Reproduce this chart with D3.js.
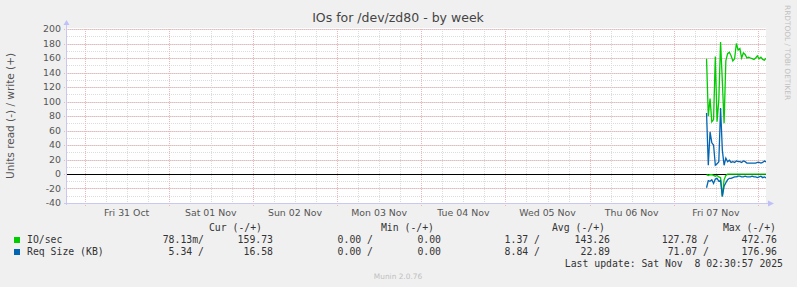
<!DOCTYPE html>
<html>
<head>
<meta charset="utf-8">
<script src="https://cdn.jsdelivr.net/npm/d3@7"></script>
<style>
  body { margin: 0; background: #f0f0f0; }
  svg { display: block; }
  text { font-family: "DejaVu Sans", sans-serif; fill: #555; }
  .mono { font-family: "DejaVu Sans Mono", monospace; font-size: 9.8px; fill: #333; }
</style>
</head>
<body>
<script>
// time window of the graph (UTC)
var tStart = Date.UTC(2025, 9, 30, 19, 0),
    tEnd = Date.UTC(2025, 10, 8, 2, 17);

// samples every 30 min, first one Fri 07 Nov 09:20
var sampleStart = Date.UTC(2025, 10, 7, 9, 20);
var ioWrite = [159, 80, 104, 72, 75, 162, 72, 102, 182, 128, 70, 156, 166, 168, 163, 156, 159, 180,
    171, 173, 160, 167, 165, 160, 161, 160, 159, 158, 160, 163, 159, 161, 158, 157, 159.73];
var ioRead = [1, 2, 1, 1, 2, 3, 2, 4, 5, 31, 8, 2, 0.3, 0.2, 0.2, 0.1, 0.1, 0.1, 0.1, 0.1, 0.1,
    0.1, 0.1, 0.1, 0.1, 0.1, 0.1, 0.1, 0.1, 0.1, 0.1, 0.1, 0.1, 0.1, 0.078];
var reqWrite = [84, 12, 58, 43, 40, 12, 14, 17, 91, 33, 12, 22, 17, 19, 16, 17, 16, 18, 17, 17, 16,
    18, 17, 15, 15, 15, 15, 15, 15, 16, 16, 15, 16, 18, 16.58];
var reqRead = [19, 9, 10, 8, 13, 7, 6, 10, 9, 31, 17, 12, 8, 6, 6, 5, 4, 4, 3, 3, 4, 4, 3, 4, 4, 4,
    3, 4, 4, 5, 4, 3, 5, 4, 5.34];

var yTicks = [-40, -20, 0, 20, 40, 60, 80, 100, 120, 140, 160, 180, 200];
var dayLabels = ["Fri 31 Oct", "Sat 01 Nov", "Sun 02 Nov", "Mon 03 Nov", "Tue 04 Nov",
    "Wed 05 Nov", "Thu 06 Nov", "Fri 07 Nov"];

var legendNames = ["IO/sec", "Req Size (KB)"];
var legendColors = ["#00cc00", "#0066b3"];
var legendCur = [["78.13m/", "159.73"], ["5.34 /", "16.58"]];
var legendMin = [["0.00 /", "0.00"], ["0.00 /", "0.00"]];
var legendAvg = [["1.37 /", "143.26"], ["8.84 /", "22.89"]];
var legendMax = [["127.78 /", "472.76"], ["71.07 /", "176.96"]];

var W = 797, H = 287;
var pL = 67, pR = 766, pT = 29, pB = 203;

var svg = d3.select("body").append("svg")
    .attr("width", W)
    .attr("height", H);

var x = d3.scaleUtc().domain([tStart, tEnd]).range([pL, pR]);
var y = d3.scaleLinear().domain([-40, 200]).range([pB, pT]);

// plot background
svg.append("rect")
    .attr("x", pL).attr("y", pT - 1)
    .attr("width", pR - pL).attr("height", pB - pT + 1)
    .attr("fill", "#fff");

// grid
var minorX = d3.utcHour.every(6).range(new Date(tStart), new Date(tEnd));
var majorX = d3.utcDay.range(new Date(tStart), new Date(tEnd));

svg.append("g").selectAll("line")
    .data(minorX)
    .enter().append("line")
    .attr("x1", function (d) { return Math.round(x(d)) + 0.5; })
    .attr("x2", function (d) { return Math.round(x(d)) + 0.5; })
    .attr("y1", pT).attr("y2", pB)
    .attr("stroke", "#dcdcdc").attr("stroke-dasharray", "1,1");

var minorY = d3.range(-40, 201, 10);
svg.append("g").selectAll("line")
    .data(minorY)
    .enter().append("line")
    .attr("x1", pL).attr("x2", pR)
    .attr("y1", function (d) { return Math.round(y(d)) + 0.5; })
    .attr("y2", function (d) { return Math.round(y(d)) + 0.5; })
    .attr("stroke", "#dcdcdc").attr("stroke-dasharray", "1,1");

svg.append("g").selectAll("line")
    .data(majorX)
    .enter().append("line")
    .attr("x1", function (d) { return Math.round(x(d)) + 0.5; })
    .attr("x2", function (d) { return Math.round(x(d)) + 0.5; })
    .attr("y1", pT).attr("y2", pB + 3)
    .attr("stroke", "#efb8b8").attr("stroke-dasharray", "1,1");

svg.append("g").selectAll("line")
    .data(yTicks)
    .enter().append("line")
    .attr("x1", pL - 3).attr("x2", pR)
    .attr("y1", function (d) { return Math.round(y(d)) + 0.5; })
    .attr("y2", function (d) { return Math.round(y(d)) + 0.5; })
    .attr("stroke", "#efb8b8").attr("stroke-dasharray", "1,1");

// y tick labels
svg.append("g").selectAll("text")
    .data(yTicks)
    .enter().append("text")
    .attr("x", pL - 6)
    .attr("y", function (d) { return y(d); })
    .attr("dy", "0.36em")
    .attr("text-anchor", "end")
    .style("font-size", "9.4px")
    .text(function (d) { return d; });

// x labels at noon
svg.append("g").selectAll("text")
    .data(dayLabels)
    .enter().append("text")
    .attr("x", function (d, i) { return x(Date.UTC(2025, 9, 31 + i, 12)); })
    .attr("y", 216)
    .attr("text-anchor", "middle")
    .style("font-size", "9.4px")
    .text(function (d) { return d; });

// zero line
svg.append("line")
    .attr("x1", pL).attr("x2", pR)
    .attr("y1", Math.round(y(0)) + 0.5).attr("y2", Math.round(y(0)) + 0.5)
    .attr("stroke", "#000");

// data lines
var times = ioWrite.map(function (d, i) { return sampleStart + i * 30 * 60 * 1000; });
var line = d3.line()
    .x(function (d, i) { return x(times[i]); })
    .y(function (d) { return y(d); });

svg.append("defs").append("clipPath").attr("id", "clip")
    .append("rect").attr("x", pL).attr("y", 0).attr("width", pR - pL).attr("height", H);

var plot = svg.append("g").attr("clip-path", "url(#clip)");
[[ioRead.map(function (d) { return -d; }), legendColors[0]],
 [ioWrite, legendColors[0]],
 [reqRead.map(function (d) { return -d; }), legendColors[1]],
 [reqWrite, legendColors[1]]].forEach(function (s) {
    plot.append("path")
        .datum(s[0])
        .attr("d", line)
        .attr("fill", "none")
        .attr("stroke", s[1])
        .attr("stroke-width", 1.3);
});

// axes with arrows
svg.append("line")
    .attr("x1", pL - 0.5).attr("x2", pL - 0.5)
    .attr("y1", pB + 2).attr("y2", pT - 5)
    .attr("stroke", "#c8c8f0");
svg.append("line")
    .attr("x1", pL - 3).attr("x2", pR + 3)
    .attr("y1", pB + 0.5).attr("y2", pB + 0.5)
    .attr("stroke", "#c8c8f0");
svg.append("path")
    .attr("d", "M" + (pL - 3.5) + "," + (pT - 4) + "L" + (pL - 0.5) + "," + (pT - 9) + "L" + (pL + 2.5) + "," + (pT - 4) + "Z")
    .attr("fill", "#c0c0f8");
svg.append("path")
    .attr("d", "M" + (pR + 2) + "," + (pB - 2.5) + "L" + (pR + 8) + "," + (pB + 0.5) + "L" + (pR + 2) + "," + (pB + 3.5) + "Z")
    .attr("fill", "#c0c0f8");

// title
svg.append("text")
    .attr("x", 398).attr("y", 22)
    .attr("text-anchor", "middle")
    .style("font-size", "12.5px")
    .style("fill", "#444")
    .text("IOs for /dev/zd80 - by week");

// y label
svg.append("text")
    .attr("transform", "translate(14," + ((pT + pB) / 2) + ") rotate(-90)")
    .attr("text-anchor", "middle")
    .style("font-size", "10.5px")
    .text("Units read (-) / write (+)");

// rrdtool credit
svg.append("text")
    .attr("transform", "translate(785,5) rotate(90)")
    .style("font-size", "7.4px")
    .style("fill", "#c0c0c0")
    .text("RRDTOOL / TOBI OETIKER");

// legend
var headers = [["Cur (-/+)", 262], ["Min (-/+)", 434], ["Avg (-/+)", 605], ["Max (-/+)", 776]];
headers.forEach(function (h) {
    svg.append("text").attr("class", "mono")
        .attr("x", h[1]).attr("y", 231)
        .attr("text-anchor", "end")
        .text(h[0]);
});

var cols = [[legendCur, 204, 273], [legendMin, 373, 441], [legendAvg, 540, 610], [legendMax, 709, 777]];
legendNames.forEach(function (name, i) {
    var yy = 243 + i * 12;
    svg.append("rect")
        .attr("x", 14).attr("y", yy - 6)
        .attr("width", 6).attr("height", 6)
        .attr("fill", legendColors[i]);
    svg.append("text").attr("class", "mono")
        .attr("x", 27).attr("y", yy)
        .text(name);
    cols.forEach(function (c) {
        svg.append("text").attr("class", "mono")
            .attr("x", c[1]).attr("y", yy)
            .attr("text-anchor", "end")
            .attr("xml:space", "preserve")
            .text(c[0][i][0]);
        svg.append("text").attr("class", "mono")
            .attr("x", c[2]).attr("y", yy)
            .attr("text-anchor", "end")
            .text(c[0][i][1]);
    });
});

svg.append("text").attr("class", "mono")
    .attr("x", 783).attr("y", 267)
    .attr("text-anchor", "end")
    .attr("xml:space", "preserve")
    .text("Last update: Sat Nov  8 02:30:57 2025");

svg.append("text")
    .attr("x", 398).attr("y", 279)
    .attr("text-anchor", "middle")
    .style("font-size", "7.4px")
    .style("fill", "#c0c0c0")
    .text("Munin 2.0.76");
</script>
</body>
</html>
